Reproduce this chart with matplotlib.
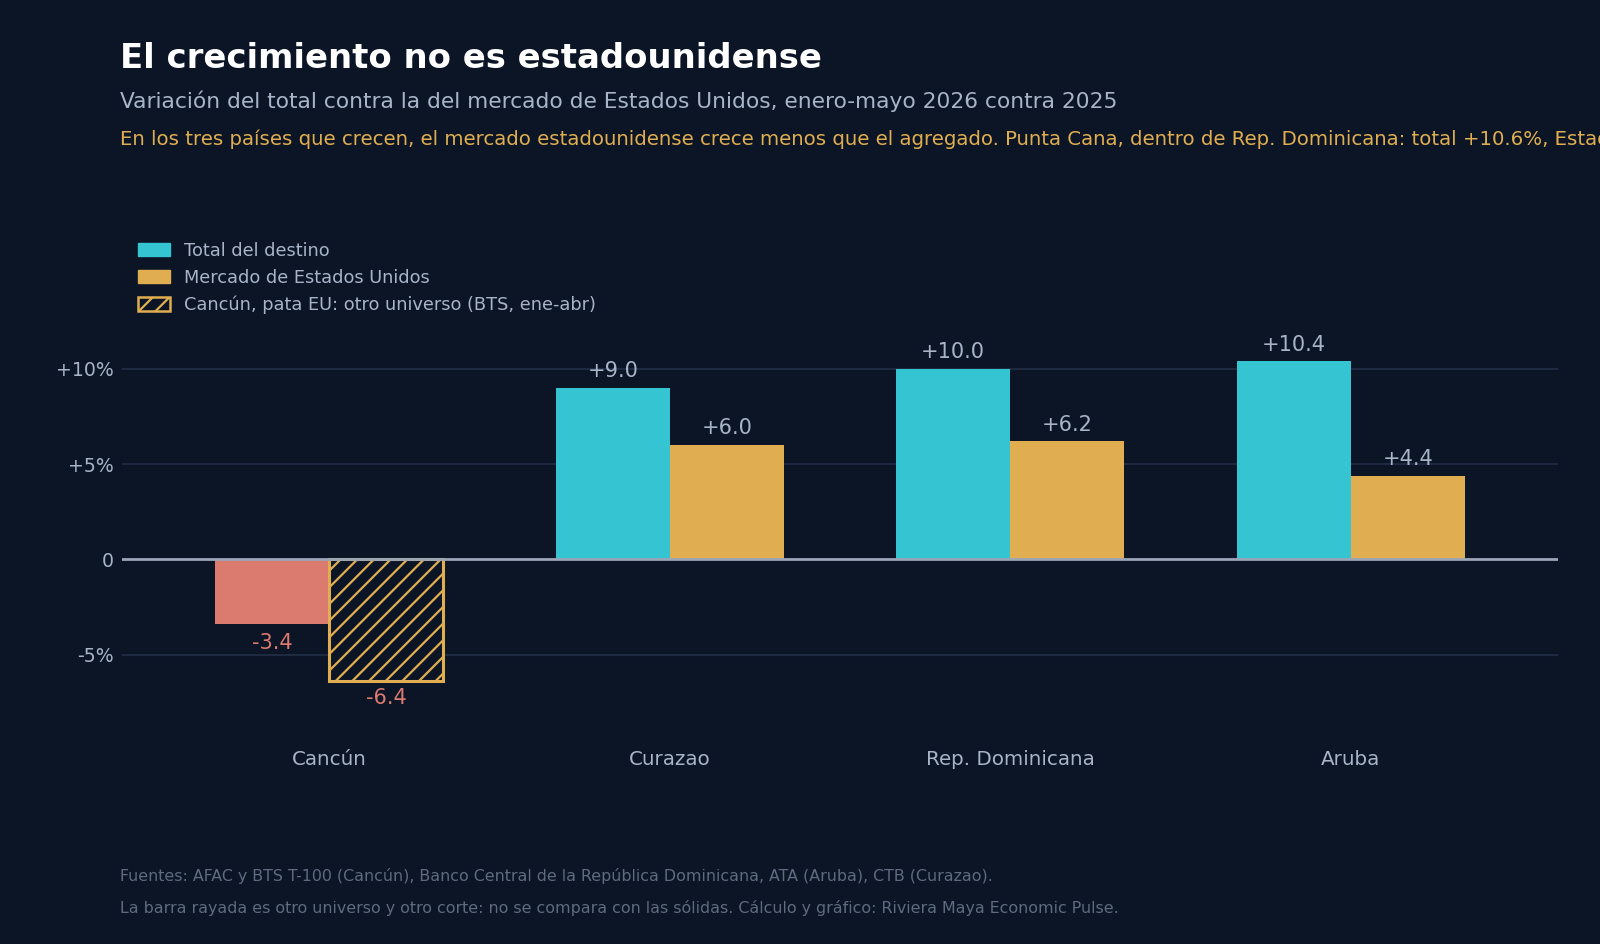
import matplotlib.pyplot as plt
from matplotlib.patches import Patch
import numpy as np

# Data
destinos = ["Cancún", "Curazao", "Rep. Dominicana", "Aruba"]
total_destino = [-3.4, 9.0, 10.0, 10.4]
mercado_eu = [-6.4, 6.0, 6.2, 4.4]
eu_rayado = [True, False, False, False]   # Cancún: otro universo (BTS)
yticks = [-5, 0, 5, 10]
ytick_labels = ["-5%", "0", "+5%", "+10%"]

BG = "#0b1526"
TEAL = "#35c4d2"
GOLD = "#e0ae50"
RED = "#db7a6e"
GRID = "#1e2a40"
TXT = "#a8b4c8"
FOOT = "#5f6b80"

plt.rcParams["hatch.linewidth"] = 1.6

fig = plt.figure(figsize=(16, 9.44), dpi=100, facecolor=BG)
ax = fig.add_axes([0.076, 0.2256, 0.898, 0.424])
ax.set_facecolor(BG)

x = np.arange(len(destinos))
w = 0.335

for i in range(len(destinos)):
    t = total_destino[i]
    col = RED if t < 0 else TEAL
    ax.bar(x[i] - w / 2, t, w, color=col, zorder=3)
    if t < 0:
        ax.text(x[i] - w / 2, t - 0.45, f"{t:.1f}", ha="center", va="top", color=RED, fontsize=15)
    else:
        ax.text(x[i] - w / 2, t + 0.35, f"+{t:.1f}", ha="center", va="bottom", color=TXT, fontsize=15)

    u = mercado_eu[i]
    if eu_rayado[i]:
        ax.bar(x[i] + w / 2, u, w, facecolor=BG, edgecolor=GOLD, hatch="//", linewidth=2.2, zorder=3)
    else:
        ax.bar(x[i] + w / 2, u, w, color=GOLD, zorder=3)
    if u < 0:
        ax.text(x[i] + w / 2, u - 0.35, f"{u:.1f}", ha="center", va="top", color=RED, fontsize=15)
    else:
        ax.text(x[i] + w / 2, u + 0.35, f"+{u:.1f}", ha="center", va="bottom", color=TXT, fontsize=15)

ax.axhline(0, color="#9aa5b8", linewidth=2, zorder=4)
ax.set_xlim(-0.61, 3.61)
ax.set_ylim(-9, 12)
ax.set_yticks(yticks)
ax.set_yticklabels(ytick_labels)
ax.yaxis.grid(True, color=GRID, linewidth=1.5, zorder=0)
ax.set_xticks(x)
ax.set_xticklabels(destinos)
ax.tick_params(axis="x", length=0, pad=14, labelsize=14.3, colors=TXT)
ax.tick_params(axis="y", length=0, pad=6, labelsize=13.6, colors=TXT)
for s in ax.spines.values():
    s.set_visible(False)

handles = [
    Patch(facecolor=TEAL, edgecolor=TEAL, label="Total del destino"),
    Patch(facecolor=GOLD, edgecolor=GOLD, label="Mercado de Estados Unidos"),
    Patch(facecolor=BG, edgecolor=GOLD, hatch="//", linewidth=1.8,
          label="Cancún, pata EU: otro universo (BTS, ene-abr)"),
]
fig.legend(handles=handles, loc="upper left", bbox_to_anchor=(0.076, 0.761), frameon=False,
           fontsize=12.8, labelcolor=TXT, handlelength=1.8, handleheight=0.8, labelspacing=0.5,
           handletextpad=0.8)

fig.text(0.075, 0.938, "El crecimiento no es estadounidense", color="white", fontsize=24.4,
         fontweight="bold", va="center")
fig.text(0.075, 0.893, "Variación del total contra la del mercado de Estados Unidos, enero-mayo 2026 contra 2025",
         color=TXT, fontsize=15.65, va="center")
fig.text(0.075, 0.852, "En los tres países que crecen, el mercado estadounidense crece menos que el agregado. "
         "Punta Cana, dentro de Rep. Dominicana: total +10.6%, Estados Unidos +7.0%.",
         color=GOLD, fontsize=14.25, va="center")
fig.text(0.075, 0.072, "Fuentes: AFAC y BTS T-100 (Cancún), Banco Central de la República Dominicana, ATA (Aruba), CTB (Curazao).",
         color=FOOT, fontsize=11.4, va="center")
fig.text(0.075, 0.038, "La barra rayada es otro universo y otro corte: no se compara con las sólidas. Cálculo y gráfico: Riviera Maya Economic Pulse.",
         color=FOOT, fontsize=11.4, va="center")

fig.savefig("out.png", dpi=100, facecolor=BG)
